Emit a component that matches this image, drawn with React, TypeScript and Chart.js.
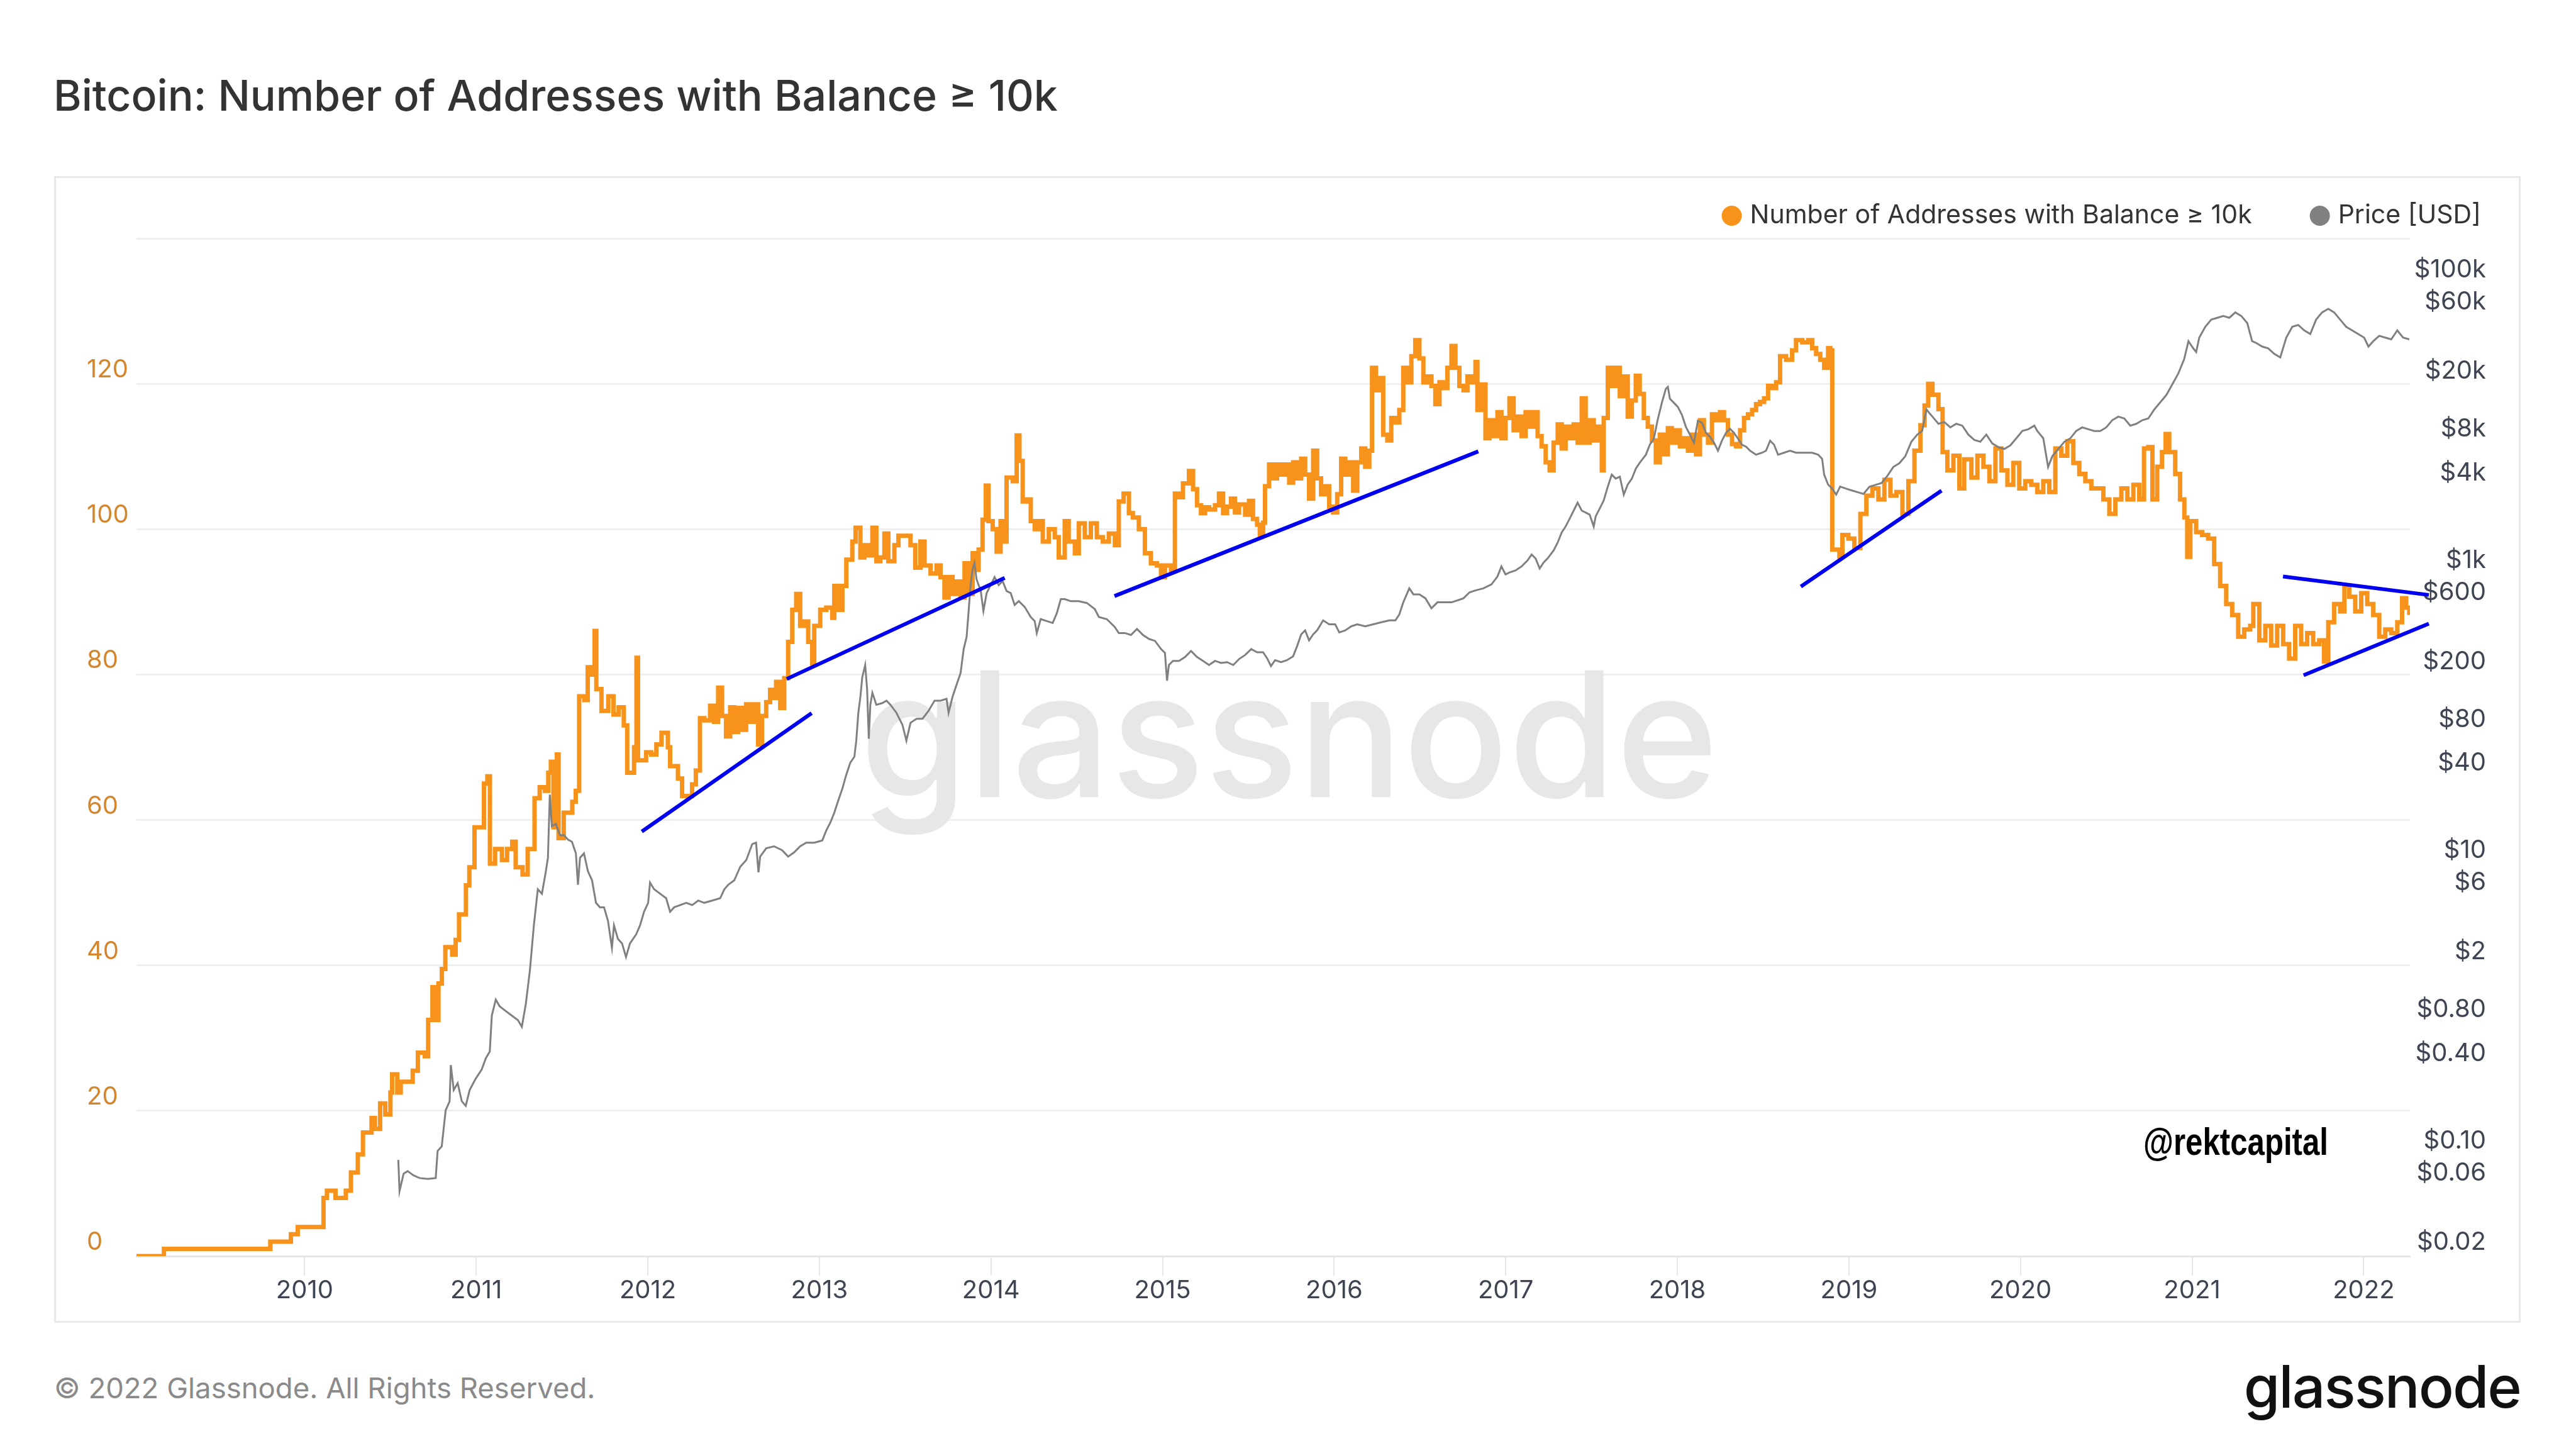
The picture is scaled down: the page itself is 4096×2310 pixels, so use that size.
import React, { useEffect, useRef } from 'react';
import { Chart, registerables } from 'chart.js';

Chart.register(...registerables);

const FONT = 'Inter, "Noto Sans", "DejaVu Sans", sans-serif';

const TITLE = 'Bitcoin: Number of Addresses with Balance ≥ 10k';
const SERIES_LABELS = ['Number of Addresses with Balance ≥ 10k', 'Price [USD]'];
const SERIES_COLORS = ['#f7931a', '#808080'];
const FOOTER = '© 2022 Glassnode. All Rights Reserved.';
const BRAND = 'glassnode';
const ANNOTATION_TEXT = '@rektcapital';
const ANNOTATION_AT = [2020.716, 13.9];

const X_MIN = 2009.02;
const X_MAX = 2022.27;
const YEAR_TICKS = [2010, 2011, 2012, 2013, 2014, 2015, 2016, 2017, 2018, 2019, 2020, 2021, 2022];
const COUNT_MIN = 0;
const COUNT_MAX = 140;
const PRICE_MIN = 0.02;
const PRICE_MAX = 205000;
const PRICE_TICKS = [100000, 60000, 20000, 8000, 4000, 1000, 600, 200, 80, 40, 10, 6, 2, 0.8, 0.4, 0.1, 0.06, 0.02];
const PRICE_TICK_LABELS = ['$100k', '$60k', '$20k', '$8k', '$4k', '$1k', '$600', '$200', '$80', '$40', '$10', '$6', '$2', '$0.80', '$0.40', '$0.10', '$0.06', '$0.02'];

// [year, number of addresses]
const ADDRESS_SERIES: [number, number][] = [
  [2009.02, 0], [2009.18, 1], [2009.8, 2], [2009.92, 3], [2009.96, 4], [2010.11, 8], [2010.13, 9], [2010.18, 8], [2010.24, 9],
  [2010.27, 11.5], [2010.31, 14], [2010.34, 17], [2010.39, 19], [2010.41, 17.5], [2010.44, 21], [2010.47, 19.5], [2010.5, 22.5],
  [2010.51, 25], [2010.54, 22.5], [2010.56, 24], [2010.63, 25.5], [2010.66, 28], [2010.7, 27.5], [2010.72, 32.5], [2010.745, 37],
  [2010.765, 32.5], [2010.78, 37.5], [2010.8, 39.5], [2010.82, 42.5], [2010.86, 41.5], [2010.88, 43.5], [2010.9, 47], [2010.94, 51],
  [2010.96, 53.5], [2010.99, 59], [2011.045, 65], [2011.065, 66], [2011.08, 54], [2011.11, 56], [2011.15, 54.5], [2011.18, 56],
  [2011.21, 57], [2011.23, 53.5], [2011.27, 52.5], [2011.3, 56], [2011.34, 63], [2011.37, 64.5], [2011.4, 64], [2011.42, 66.5],
  [2011.435, 68], [2011.45, 59], [2011.47, 69], [2011.48, 57.5], [2011.51, 61], [2011.56, 62.5], [2011.58, 64], [2011.6, 77],
  [2011.63, 76.5], [2011.65, 81], [2011.67, 80], [2011.69, 86], [2011.7, 78], [2011.73, 75], [2011.77, 77], [2011.8, 74.5],
  [2011.83, 75.5], [2011.86, 73], [2011.88, 66.5], [2011.92, 70], [2011.934, 82.3], [2011.943, 68.2], [2011.99, 69.3], [2012.02, 69],
  [2012.05, 70.4], [2012.08, 72], [2012.117, 70], [2012.13, 67.4], [2012.176, 65.7], [2012.2, 63.3], [2012.258, 64.9], [2012.28, 66.8],
  [2012.304, 74], [2012.33, 73.7], [2012.363, 75.7], [2012.386, 73.5], [2012.41, 78.2], [2012.433, 74.3], [2012.456, 71.5], [2012.48, 75.5],
  [2012.503, 72.1], [2012.526, 75.4], [2012.55, 72.4], [2012.573, 75.9], [2012.596, 73.5], [2012.62, 75.9], [2012.643, 70.4], [2012.666, 74.3],
  [2012.69, 76.2], [2012.713, 77.9], [2012.736, 76.8], [2012.748, 79], [2012.772, 75.4], [2012.795, 79.5], [2012.818, 84.5], [2012.842, 88.9],
  [2012.865, 91.1], [2012.888, 86.7], [2012.91, 87.3], [2012.935, 84.5], [2012.958, 81.5], [2012.97, 86.7], [2013.005, 88.9], [2013.04, 89.2],
  [2013.075, 87.8], [2013.087, 92.2], [2013.11, 88.9], [2013.134, 92.2], [2013.157, 95.8], [2013.192, 98.3], [2013.211, 100.2], [2013.239, 96.1],
  [2013.262, 97.8], [2013.286, 96.4], [2013.309, 100.2], [2013.332, 95.6], [2013.355, 96.1], [2013.379, 99.4], [2013.402, 95.6], [2013.437, 97.8],
  [2013.461, 99.1], [2013.531, 97.8], [2013.559, 94.7], [2013.589, 98.3], [2013.613, 95], [2013.648, 93.9], [2013.683, 95], [2013.706, 93.4],
  [2013.729, 90.6], [2013.753, 93.4], [2013.776, 91.1], [2013.799, 92.8], [2013.823, 90.6], [2013.846, 95.3], [2013.869, 91.1], [2013.893, 96.7],
  [2013.909, 94.4], [2013.928, 97.2], [2013.951, 101.3], [2013.97, 106], [2013.986, 101.1], [2014.01, 100], [2014.033, 96.9], [2014.056, 101.1],
  [2014.08, 98.3], [2014.091, 107.1], [2014.127, 106.6], [2014.15, 112.9], [2014.166, 109.4], [2014.185, 103.8], [2014.208, 104.1], [2014.232, 101.1],
  [2014.255, 100], [2014.278, 101.1], [2014.302, 98.3], [2014.337, 100], [2014.372, 98.9], [2014.395, 96.1], [2014.43, 101.1], [2014.453, 98.3],
  [2014.489, 96.7], [2014.512, 100.8], [2014.547, 98.9], [2014.582, 100.8], [2014.617, 98.9], [2014.652, 98.3], [2014.687, 99.4], [2014.722, 97.8],
  [2014.745, 103.8], [2014.773, 104.9], [2014.804, 102.2], [2014.827, 101.6], [2014.862, 100], [2014.897, 96.7], [2014.932, 95.3], [2014.967, 95],
  [2014.991, 93.4], [2015.014, 95], [2015.049, 94.4], [2015.072, 104.9], [2015.096, 104.4], [2015.119, 106.3], [2015.154, 108], [2015.178, 105.5],
  [2015.201, 103.3], [2015.224, 102.2], [2015.248, 103], [2015.271, 102.7], [2015.306, 103.3], [2015.329, 104.9], [2015.353, 102.2], [2015.376, 103.1],
  [2015.399, 104.2], [2015.422, 102.3], [2015.446, 103.4], [2015.481, 102], [2015.504, 103.9], [2015.527, 101.4], [2015.551, 100.6], [2015.567, 99.2],
  [2015.586, 100.9], [2015.597, 105.9], [2015.621, 108.9], [2015.644, 107], [2015.667, 108.9], [2015.691, 107.5], [2015.714, 108.9], [2015.738, 106.4],
  [2015.761, 109.2], [2015.784, 107], [2015.808, 109.7], [2015.831, 107.5], [2015.854, 104.2], [2015.878, 110.8], [2015.901, 107], [2015.924, 104.8],
  [2015.948, 105.9], [2015.971, 103.1], [2015.994, 102.3], [2016.018, 104.8], [2016.041, 109.7], [2016.065, 107.5], [2016.088, 109.2], [2016.111, 105.3],
  [2016.135, 109.2], [2016.158, 111.1], [2016.181, 108.6], [2016.205, 110.8], [2016.221, 122.2], [2016.244, 119.1], [2016.263, 120.8], [2016.286, 113],
  [2016.31, 112.2], [2016.333, 115.3], [2016.357, 114.7], [2016.38, 116.4], [2016.403, 122.2], [2016.427, 120.2], [2016.45, 123.8], [2016.473, 126],
  [2016.497, 123.5], [2016.52, 120.2], [2016.544, 121], [2016.567, 119.7], [2016.59, 117.2], [2016.614, 120.2], [2016.637, 119.4], [2016.66, 122.2],
  [2016.684, 125.2], [2016.707, 122.2], [2016.73, 119.7], [2016.754, 119.1], [2016.777, 121], [2016.8, 120.2], [2016.824, 123], [2016.835, 116.4],
  [2016.859, 119.9], [2016.882, 112.5], [2016.905, 115], [2016.929, 112.8], [2016.952, 116.1], [2016.975, 112.5], [2016.999, 115.3], [2017.022, 118],
  [2017.046, 113.6], [2017.069, 115.5], [2017.092, 112.8], [2017.116, 116.1], [2017.139, 114.1], [2017.162, 116.1], [2017.186, 112.8], [2017.209, 111.4],
  [2017.233, 109.2], [2017.256, 108.1], [2017.279, 111.9], [2017.303, 114.4], [2017.326, 111.1], [2017.349, 114.1], [2017.373, 112.5], [2017.396, 114.4],
  [2017.419, 111.9], [2017.443, 118], [2017.466, 111.9], [2017.489, 115], [2017.513, 112.2], [2017.536, 114.1], [2017.56, 108.1], [2017.571, 115.3],
  [2017.595, 122.2], [2017.618, 119.7], [2017.641, 122.2], [2017.665, 118.3], [2017.688, 121], [2017.711, 115.5], [2017.735, 117.7], [2017.758, 121.1],
  [2017.781, 118.6], [2017.805, 115.3], [2017.828, 114.1], [2017.852, 112.2], [2017.875, 109.2], [2017.898, 113], [2017.922, 110.3], [2017.945, 113.9],
  [2017.968, 111.9], [2017.992, 113.6], [2018.015, 111.4], [2018.038, 112.5], [2018.062, 110.8], [2018.085, 113], [2018.109, 110.3], [2018.132, 115],
  [2018.155, 113], [2018.179, 111.9], [2018.202, 115.8], [2018.225, 115], [2018.249, 116.1], [2018.272, 115], [2018.295, 113], [2018.319, 111.7],
  [2018.342, 111.4], [2018.366, 113.6], [2018.389, 115.3], [2018.412, 115.8], [2018.436, 116.4], [2018.459, 117.2], [2018.482, 117.5], [2018.506, 118],
  [2018.529, 119.7], [2018.552, 119.4], [2018.576, 120.2], [2018.599, 123.8], [2018.634, 123.3], [2018.669, 124.6], [2018.692, 126], [2018.728, 125.7],
  [2018.763, 126], [2018.786, 124.9], [2018.809, 124.1], [2018.833, 123.3], [2018.856, 122.2], [2018.879, 124.9], [2018.892, 124.6], [2018.903, 97.2],
  [2018.945, 96.2], [2018.962, 99.2], [2018.997, 98.7], [2019.032, 97.4], [2019.067, 102.1], [2019.102, 104.6], [2019.137, 105.6], [2019.172, 104.1],
  [2019.207, 106.8], [2019.242, 104.6], [2019.277, 105.1], [2019.312, 102.1], [2019.347, 106.6], [2019.382, 110.8], [2019.417, 114.3], [2019.441, 117],
  [2019.462, 120], [2019.487, 118.5], [2019.522, 116.5], [2019.546, 110.6], [2019.574, 108.1], [2019.609, 110.1], [2019.644, 105.6], [2019.672, 109.6],
  [2019.714, 107.1], [2019.749, 110.1], [2019.784, 108.6], [2019.819, 106.6], [2019.854, 111.1], [2019.889, 108.1], [2019.924, 106.1], [2019.958, 109.1],
  [2019.993, 105.6], [2020.028, 106.6], [2020.063, 106.1], [2020.098, 105.1], [2020.133, 106.6], [2020.168, 105.1], [2020.203, 111.1], [2020.238, 110.1],
  [2020.273, 112.1], [2020.308, 109.1], [2020.343, 107.6], [2020.378, 106.6], [2020.413, 105.6], [2020.483, 104.1], [2020.518, 102.1], [2020.553, 104.1],
  [2020.588, 105.6], [2020.623, 104.1], [2020.658, 106.1], [2020.692, 104.1], [2020.72, 111.1], [2020.745, 111.3], [2020.769, 104.1], [2020.797, 108.6],
  [2020.825, 110.6], [2020.846, 113.1], [2020.867, 110.6], [2020.902, 107.6], [2020.93, 104.1], [2020.955, 101.6], [2020.972, 96.2], [2020.99, 101.1],
  [2021.024, 99.6], [2021.059, 99.2], [2021.094, 98.7], [2021.129, 95.2], [2021.164, 92.2], [2021.199, 89.7], [2021.234, 88.2], [2021.269, 85.2],
  [2021.304, 86.2], [2021.339, 86.7], [2021.357, 89.7], [2021.392, 84.7], [2021.427, 86.7], [2021.461, 84], [2021.496, 86.7], [2021.531, 84.2],
  [2021.566, 82.2], [2021.601, 86.7], [2021.636, 84.2], [2021.671, 85.7], [2021.706, 84.2], [2021.741, 84.7], [2021.769, 81.8], [2021.794, 87.2],
  [2021.828, 89.7], [2021.863, 88.7], [2021.888, 92.2], [2021.916, 90.7], [2021.951, 88.7], [2021.986, 91.2], [2022.021, 89.7], [2022.056, 88.2],
  [2022.091, 85.2], [2022.126, 86.2], [2022.161, 85.7], [2022.196, 87.2], [2022.224, 90.5], [2022.248, 89.2], [2022.266, 88.2],
];

// [year, price in USD]
const PRICE_SERIES: [number, number][] = [
  [2010.546, 0.092], [2010.553, 0.056], [2010.577, 0.074], [2010.6, 0.077], [2010.635, 0.072], [2010.67, 0.069], [2010.717, 0.068], [2010.764, 0.069],
  [2010.775, 0.106], [2010.799, 0.114], [2010.822, 0.202], [2010.845, 0.233], [2010.852, 0.414], [2010.869, 0.279], [2010.892, 0.311], [2010.916, 0.233],
  [2010.939, 0.217], [2010.962, 0.279], [2010.997, 0.334], [2011.032, 0.386], [2011.056, 0.461], [2011.079, 0.513], [2011.091, 0.908], [2011.114, 1.17],
  [2011.137, 1.05], [2011.172, 0.976], [2011.207, 0.908], [2011.243, 0.845], [2011.266, 0.76], [2011.289, 1.09], [2011.313, 1.86], [2011.336, 3.8],
  [2011.359, 6.73], [2011.383, 6.27], [2011.406, 8.96], [2011.418, 11.1], [2011.429, 30.2], [2011.441, 18.3], [2011.464, 19], [2011.488, 15.9],
  [2011.511, 15.9], [2011.535, 14.8], [2011.558, 14.3], [2011.581, 11.9], [2011.593, 7.23], [2011.605, 11.1], [2011.628, 11.9], [2011.651, 8.96],
  [2011.675, 7.76], [2011.698, 5.43], [2011.721, 5.06], [2011.745, 5.06], [2011.768, 4.08], [2011.791, 2.66], [2011.803, 3.8], [2011.826, 3.06],
  [2011.85, 2.85], [2011.873, 2.3], [2011.896, 2.85], [2011.932, 3.29], [2011.955, 3.8], [2011.978, 4.71], [2012.002, 5.43], [2012.013, 7.49],
  [2012.037, 6.73], [2012.072, 6.27], [2012.107, 5.84], [2012.13, 4.71], [2012.154, 5.06], [2012.189, 5.24], [2012.224, 5.43], [2012.259, 5.24],
  [2012.294, 5.63], [2012.329, 5.43], [2012.375, 5.63], [2012.422, 5.84], [2012.446, 6.73], [2012.469, 7.23], [2012.504, 7.76], [2012.539, 9.62],
  [2012.574, 10.7], [2012.609, 13.8], [2012.631, 14.1], [2012.645, 8.8], [2012.655, 11.3], [2012.69, 12.9], [2012.736, 13.3], [2012.783, 12.5],
  [2012.818, 11.3], [2012.853, 12.1], [2012.888, 13.3], [2012.923, 14.1], [2012.97, 14.1], [2013.017, 14.6], [2013.04, 17.1], [2013.064, 19.4],
  [2013.087, 22.7], [2013.11, 27.5], [2013.134, 33.2], [2013.157, 41.5], [2013.18, 50.1], [2013.204, 55.1], [2013.215, 71], [2013.227, 110.6],
  [2013.239, 142.5], [2013.25, 195], [2013.267, 236], [2013.278, 162], [2013.288, 73.3], [2013.297, 125.6], [2013.309, 152], [2013.332, 125.6],
  [2013.367, 129], [2013.391, 134], [2013.414, 125.6], [2013.449, 110.6], [2013.484, 91.5], [2013.507, 71], [2013.531, 94.4], [2013.566, 100.6],
  [2013.601, 100.6], [2013.636, 114], [2013.671, 134], [2013.706, 134], [2013.741, 138], [2013.753, 110.6], [2013.776, 142.5], [2013.799, 172],
  [2013.823, 208], [2013.841, 304], [2013.858, 368], [2013.869, 538], [2013.881, 838], [2013.893, 1079], [2013.904, 1186], [2013.916, 922],
  [2013.928, 838], [2013.939, 787], [2013.956, 556], [2013.975, 739], [2013.998, 838], [2014.021, 951], [2014.045, 838], [2014.068, 893],
  [2014.091, 763], [2014.115, 739], [2014.138, 611], [2014.162, 650], [2014.197, 592], [2014.232, 505], [2014.255, 474], [2014.267, 392],
  [2014.29, 489], [2014.325, 474], [2014.36, 460], [2014.384, 538], [2014.407, 671], [2014.43, 671], [2014.465, 650], [2014.512, 650],
  [2014.559, 631], [2014.605, 573], [2014.629, 505], [2014.675, 489], [2014.722, 431], [2014.745, 392], [2014.78, 392], [2014.816, 380],
  [2014.851, 418], [2014.886, 380], [2014.921, 357], [2014.956, 346], [2014.991, 304], [2015.014, 286], [2015.026, 184], [2015.037, 236],
  [2015.061, 252], [2015.096, 252], [2015.131, 268], [2015.166, 295], [2015.201, 268], [2015.236, 252], [2015.271, 236], [2015.306, 252],
  [2015.341, 244], [2015.376, 247], [2015.412, 236], [2015.447, 260], [2015.482, 277], [2015.517, 304], [2015.551, 289], [2015.586, 289],
  [2015.609, 263], [2015.632, 232], [2015.656, 255], [2015.691, 247], [2015.726, 255], [2015.761, 271], [2015.784, 318], [2015.808, 384],
  [2015.831, 409], [2015.854, 349], [2015.878, 384], [2015.901, 409], [2015.936, 479], [2015.971, 450], [2016.006, 450], [2016.03, 396],
  [2016.065, 409], [2016.1, 436], [2016.135, 450], [2016.181, 436], [2016.228, 450], [2016.275, 465], [2016.322, 479], [2016.357, 479],
  [2016.38, 527], [2016.403, 638], [2016.438, 796], [2016.462, 724], [2016.497, 724], [2016.532, 680], [2016.567, 580], [2016.602, 638],
  [2016.649, 638], [2016.684, 638], [2016.719, 658], [2016.754, 680], [2016.789, 747], [2016.824, 771], [2016.87, 796], [2016.917, 848],
  [2016.952, 962], [2016.975, 1127], [2016.999, 993], [2017.022, 1025], [2017.057, 1058], [2017.092, 1127], [2017.127, 1239], [2017.151, 1362],
  [2017.174, 1279], [2017.198, 1092], [2017.221, 1200], [2017.244, 1279], [2017.279, 1452], [2017.303, 1648], [2017.326, 1930], [2017.349, 2123],
  [2017.373, 2409], [2017.396, 2734], [2017.419, 3102], [2017.443, 2734], [2017.466, 2649], [2017.489, 2567], [2017.513, 2123], [2017.524, 2488],
  [2017.548, 2825], [2017.571, 3206], [2017.595, 4000], [2017.618, 4833], [2017.641, 4538], [2017.665, 4682], [2017.688, 3522], [2017.711, 4125],
  [2017.735, 4538], [2017.758, 5312], [2017.781, 5843], [2017.817, 6631], [2017.84, 7770], [2017.863, 8545], [2017.887, 11720], [2017.91, 15100],
  [2017.933, 18840], [2017.945, 19440], [2017.957, 16080], [2017.98, 15100], [2018.003, 14160], [2018.027, 12480], [2018.05, 10320], [2018.074, 9095],
  [2018.097, 8018], [2018.12, 11360], [2018.144, 11010], [2018.167, 9390], [2018.19, 8817], [2018.214, 8018], [2018.237, 7068], [2018.26, 8280],
  [2018.284, 9390], [2018.307, 10000], [2018.33, 9390], [2018.354, 8545], [2018.377, 7770], [2018.401, 7530], [2018.424, 7068], [2018.459, 6631],
  [2018.494, 6845], [2018.517, 7068], [2018.541, 8280], [2018.564, 7770], [2018.587, 6631], [2018.622, 6845], [2018.657, 7068], [2018.692, 6845],
  [2018.739, 6845], [2018.786, 6845], [2018.821, 6631], [2018.844, 6220], [2018.856, 4833], [2018.879, 4125], [2018.903, 3873], [2018.926, 3522],
  [2018.949, 4000], [2018.984, 3873], [2019.02, 3750], [2019.05, 3665], [2019.085, 3563], [2019.12, 3994], [2019.155, 4110], [2019.19, 4227],
  [2019.224, 4739], [2019.259, 5463], [2019.294, 5786], [2019.329, 6487], [2019.364, 8145], [2019.399, 9126], [2019.427, 9664], [2019.452, 13600],
  [2019.469, 12840], [2019.487, 12130], [2019.522, 10830], [2019.556, 11140], [2019.591, 10230], [2019.626, 10830], [2019.661, 10520], [2019.696, 9126],
  [2019.731, 8384], [2019.766, 8145], [2019.801, 9126], [2019.836, 7917], [2019.871, 7476], [2019.906, 7266], [2019.941, 7694], [2019.976, 8613],
  [2020.011, 9664], [2020.046, 9937], [2020.081, 10520], [2020.098, 9664], [2020.133, 8613], [2020.161, 5463], [2020.186, 6487], [2020.221, 7266],
  [2020.256, 8145], [2020.291, 8613], [2020.325, 9664], [2020.36, 10230], [2020.395, 9937], [2020.43, 9664], [2020.465, 9664], [2020.5, 10230],
  [2020.535, 11460], [2020.57, 12130], [2020.605, 11790], [2020.64, 10520], [2020.675, 10830], [2020.71, 11460], [2020.745, 11790], [2020.78, 13600],
  [2020.815, 15250], [2020.85, 17080], [2020.885, 20270], [2020.92, 24070], [2020.954, 30200], [2020.979, 40160], [2021.007, 35840], [2021.024, 33810],
  [2021.042, 42480], [2021.077, 50460], [2021.112, 56540], [2021.147, 58200], [2021.182, 59870], [2021.217, 58200], [2021.252, 63380], [2021.287, 59870],
  [2021.322, 53420], [2021.35, 40160], [2021.374, 39030], [2021.409, 36850], [2021.444, 35840], [2021.479, 32860], [2021.514, 31030], [2021.549, 42480],
  [2021.584, 50460], [2021.619, 51900], [2021.654, 47650], [2021.689, 44980], [2021.723, 56540], [2021.758, 63380], [2021.794, 67060], [2021.828, 63380],
  [2021.863, 56540], [2021.898, 50460], [2021.933, 47650], [2021.968, 44980], [2022.003, 42480], [2022.028, 36850], [2022.056, 40160], [2022.091, 43720],
  [2022.126, 42480], [2022.161, 41320], [2022.196, 47650], [2022.23, 42480], [2022.266, 41320],
];

// Hand-drawn trend lines (annotation), in [year, number of addresses]
const TREND_START: [number, number][] = [
  [2011.965, 58.4], [2012.81, 79.4], [2014.72, 90.8], [2018.72, 92.1], [2021.53, 93.5], [2021.65, 79.9],
];
const TREND_END: [number, number][] = [
  [2012.955, 74.7], [2014.08, 93.3], [2016.84, 110.7], [2019.54, 105.3], [2022.38, 90.95], [2022.38, 87.0],
];

const watermarkPlugin = {
  id: 'gnWatermark',
  beforeDatasetsDraw(chart: any) {
    const { ctx, chartArea } = chart;
    ctx.save();
    ctx.font = `500 277px ${FONT}`;
    ctx.fillStyle = '#e7e7e7';
    ctx.textAlign = 'center';
    ctx.textBaseline = 'alphabetic';
    const x = chartArea.left + 0.507 * (chartArea.right - chartArea.left);
    const y = chartArea.top + 0.549 * (chartArea.bottom - chartArea.top);
    ctx.fillText(BRAND, x, y);
    ctx.restore();
  },
};

const annotationPlugin = {
  id: 'gnAnnotation',
  afterDatasetsDraw(chart: any) {
    const { ctx, scales } = chart;
    const px = scales.x.getPixelForValue(ANNOTATION_AT[0]);
    const py = scales.y.getPixelForValue(ANNOTATION_AT[1]);
    ctx.save();
    ctx.font = 'bold 62px "Liberation Sans", Arial, sans-serif';
    ctx.fillStyle = '#000000';
    ctx.textAlign = 'left';
    ctx.textBaseline = 'alphabetic';
    const w = ctx.measureText(ANNOTATION_TEXT).width;
    ctx.translate(px, py);
    ctx.scale(294 / w, 1);
    ctx.fillText(ANNOTATION_TEXT, 0, 0);
    ctx.restore();
  },
};

const legendPlugin = {
  id: 'gnLegend',
  afterDraw(chart: any) {
    const { ctx, chartArea } = chart;
    ctx.save();
    ctx.font = `400 41px ${FONT}`;
    ctx.textBaseline = 'middle';
    ctx.textAlign = 'left';
    const y = chartArea.top - 36;
    let right = chartArea.right + 113;
    for (let i = SERIES_LABELS.length - 1; i >= 0; i--) {
      const text = SERIES_LABELS[i];
      const w = ctx.measureText(text).width;
      const tx = right - w;
      const dx = tx - 29;
      ctx.fillStyle = '#333333';
      ctx.fillText(text, tx, y);
      ctx.beginPath();
      ctx.arc(dx, y, 16, 0, Math.PI * 2);
      ctx.fillStyle = SERIES_COLORS[i];
      ctx.fill();
      right = dx - 108;
    }
    ctx.restore();
  },
};

function ChartCanvas() {
  const ref = useRef<HTMLCanvasElement | null>(null);
  useEffect(() => {
    if (!ref.current) return;
    const trendSets = TREND_START.map((s, i) => ({
      label: 'trend' + i,
      data: [
        { x: s[0], y: s[1] },
        { x: TREND_END[i][0], y: TREND_END[i][1] },
      ],
      yAxisID: 'y',
      borderColor: '#0000f0',
      borderWidth: 6,
      pointRadius: 0,
      clip: false as const,
      order: 0,
    }));
    const chart = new Chart(ref.current, {
      type: 'line',
      data: {
        datasets: [
          {
            label: SERIES_LABELS[0],
            data: ADDRESS_SERIES.map(([x, y]) => ({ x, y })),
            yAxisID: 'y',
            borderColor: SERIES_COLORS[0],
            borderWidth: 7,
            pointRadius: 0,
            stepped: true,
            order: 2,
          },
          {
            label: SERIES_LABELS[1],
            data: PRICE_SERIES.map(([x, y]) => ({ x, y })),
            yAxisID: 'price',
            borderColor: SERIES_COLORS[1],
            borderWidth: 3,
            pointRadius: 0,
            order: 1,
          },
          ...trendSets,
        ] as any,
      },
      options: {
        animation: false,
        responsive: false,
        devicePixelRatio: 1,
        events: [],
        layout: { padding: { left: 52, top: 99, right: 55, bottom: 0 } },
        elements: { line: { tension: 0 }, point: { radius: 0 } },
        plugins: { legend: { display: false }, tooltip: { enabled: false } },
        scales: {
          x: {
            type: 'linear',
            min: X_MIN,
            max: X_MAX,
            afterBuildTicks: (scale: any) => {
              scale.ticks = YEAR_TICKS.map((v) => ({ value: v }));
            },
            afterFit: (scale: any) => {
              scale.height = 106;
            },
            ticks: {
              autoSkip: false,
              maxRotation: 0,
              padding: 0,
              color: '#3e4452',
              font: { family: FONT, size: 40 },
              callback: (v: any) => String(v),
            },
            grid: { drawOnChartArea: false, drawTicks: true, tickLength: 31, color: '#e6e6e6', lineWidth: 2 },
            border: { display: true, color: '#e6e6e6', width: 3 },
          },
          y: {
            type: 'linear',
            position: 'left',
            min: COUNT_MIN,
            max: COUNT_MAX,
            afterFit: (scale: any) => {
              scale.width = 79;
            },
            ticks: {
              stepSize: 20,
              autoSkip: false,
              crossAlign: 'far',
              padding: 0,
              labelOffset: -22,
              color: '#d4862e',
              font: { family: FONT, size: 40 },
              callback: (v: any) => (v === COUNT_MAX ? '' : String(v)),
            },
            grid: { color: '#efefef', lineWidth: 3, drawTicks: false },
            border: { display: false },
          },
          price: {
            type: 'logarithmic',
            position: 'right',
            min: PRICE_MIN,
            max: PRICE_MAX,
            afterBuildTicks: (scale: any) => {
              scale.ticks = PRICE_TICKS.map((v) => ({ value: v }));
            },
            afterFit: (scale: any) => {
              scale.width = 121;
            },
            ticks: {
              autoSkip: false,
              crossAlign: 'far',
              padding: 10,
              labelOffset: -22,
              color: '#3e4452',
              font: { family: FONT, size: 40 },
              callback: (v: any) => {
                const i = PRICE_TICKS.findIndex((t) => Math.abs(t - v) / t < 1e-6);
                return i >= 0 ? PRICE_TICK_LABELS[i] : '';
              },
            },
            grid: { display: false, drawTicks: false },
            border: { display: false },
          },
        },
      } as any,
      plugins: [watermarkPlugin, annotationPlugin, legendPlugin],
    });
    return () => chart.destroy();
  }, []);
  return (
    <canvas
      ref={ref}
      width={3922}
      height={1823}
      style={{ position: 'absolute', left: 86, top: 280, width: 3922, height: 1823 }}
    />
  );
}

export default function App() {
  return (
    <div
      style={{
        position: 'absolute',
        left: 0,
        top: 0,
        width: 4096,
        height: 2310,
        background: '#ffffff',
        fontFamily: FONT,
        overflow: 'hidden',
      }}
    >
      <div
        style={{
          position: 'absolute',
          left: 85,
          top: 117,
          fontSize: 68,
          lineHeight: '68px',
          fontWeight: 500,
          color: '#333333',
          whiteSpace: 'nowrap',
        }}
      >
        {TITLE}
      </div>
      <ChartCanvas />
      <div
        style={{
          position: 'absolute',
          left: 86,
          top: 280,
          width: 3922,
          height: 1823,
          boxSizing: 'border-box',
          border: '3px solid #e9e9e9',
          pointerEvents: 'none',
        }}
      />
      <div
        style={{
          position: 'absolute',
          left: 86,
          top: 2184,
          fontSize: 45.5,
          lineHeight: '45.5px',
          color: '#8a8a8a',
          whiteSpace: 'nowrap',
        }}
      >
        {FOOTER}
      </div>
      <div
        style={{
          position: 'absolute',
          right: 88,
          top: 2158,
          fontSize: 93,
          lineHeight: '93px',
          fontWeight: 500,
          letterSpacing: '-2px',
          color: '#111111',
          whiteSpace: 'nowrap',
        }}
      >
        {BRAND}
      </div>
    </div>
  );
}
